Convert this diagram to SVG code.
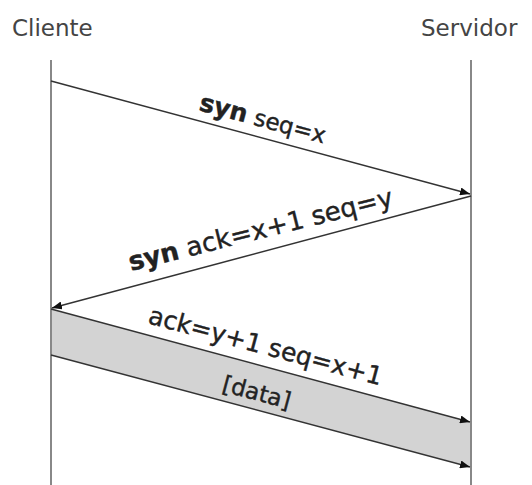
<svg xmlns="http://www.w3.org/2000/svg" width="532" height="485" viewBox="0 0 532 485">
  <style>
    .hdr { font-family: "DejaVu Sans", sans-serif; font-size: 23px; fill: #444; }
    .lbl { font-family: "DejaVu Sans", sans-serif; font-size: 23px; fill: #222; stroke: #222; stroke-width: 0.4; }
    .b { font-weight: bold; }
    .life { stroke: #888; stroke-width: 2; fill: none; }
    .msg { stroke: #333; stroke-width: 1.5; fill: none; marker-end: url(#ah); }
  </style>
  <defs>
    <marker id="ah" viewBox="0 0 10 8" refX="10" refY="4" markerWidth="10" markerHeight="8" markerUnits="userSpaceOnUse" orient="auto">
      <path d="M0,0 L10,4 L0,8 Z" fill="#111"/>
    </marker>
  </defs>
  <rect width="532" height="485" fill="#fff"/>
  <polygon points="51,309 471,422 471,467 51,355" fill="#d3d3d3"/>
  <g id="cliente">
    <text class="hdr" x="12" y="36">Cliente</text>
    <line class="life" x1="51" y1="60" x2="51" y2="485"/>
  </g>
  <g id="servidor">
    <text class="hdr" x="421" y="36">Servidor</text>
    <line class="life" x1="471" y1="60" x2="471" y2="485"/>
  </g>
  <g id="connectors">
    <line class="msg" x1="51" y1="81" x2="470" y2="194"/>
    <line class="msg" x1="471" y1="196" x2="52" y2="308"/>
    <line class="msg" x1="51" y1="309" x2="470" y2="422"/>
    <line class="msg" x1="51" y1="355" x2="470" y2="467"/>
  </g>
  <g id="labels">
    <text class="lbl" transform="translate(198,110) rotate(15)"><tspan class="b" font-size="25">syn</tspan> seq=x</text>
    <text class="lbl" font-size="26" transform="translate(131,271) rotate(-14)" style="font-size:26px"><tspan class="b">syn</tspan> ack=x+1 seq=y</text>
    <text class="lbl" transform="translate(147,323) rotate(15)" style="font-size:25px">ack=y+1 seq=x+1</text>
    <text class="lbl" transform="translate(221,391) rotate(15)">[data]</text>
  </g>
</svg>
